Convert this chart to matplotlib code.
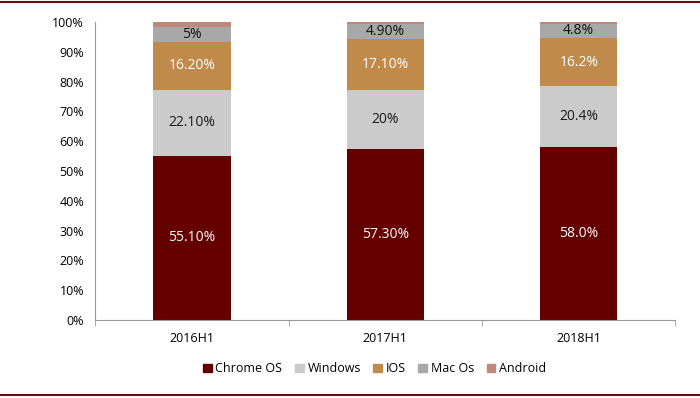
import numpy as np
import matplotlib
matplotlib.use("Agg")
import matplotlib.pyplot as plt
from matplotlib.lines import Line2D
from matplotlib.patches import Patch

plt.rcParams.update({"font.family": ["Open Sans", "DejaVu Sans"], "font.size": 9})

periods = ["2016H1", "2017H1", "2018H1"]
series = ["Chrome OS", "Windows", "IOS", "Mac Os", "Android"]
chrome = [55.1, 57.3, 58.0]
windows = [22.1, 20.0, 20.4]
ios = [16.2, 17.1, 16.2]
mac = [5.0, 4.9, 4.8]
android = [1.6, 0.7, 0.6]
labels = {
    "Chrome OS": ["55.10%", "57.30%", "58.0%"],
    "Windows": ["22.10%", "20%", "20.4%"],
    "IOS": ["16.20%", "17.10%", "16.2%"],
    "Mac Os": ["5%", "4.90%", "4.8%"],
}
values = {"Chrome OS": chrome, "Windows": windows, "IOS": ios,
          "Mac Os": mac, "Android": android}
colors = {"Chrome OS": "#640000", "Windows": "#CBCBCB", "IOS": "#C08A4B",
          "Mac Os": "#A8A8A8", "Android": "#C08878"}
txtcol = {"Chrome OS": "white", "Windows": "#1A1A1A", "IOS": "white",
          "Mac Os": "#111111"}

fig = plt.figure(figsize=(7.0, 3.98), dpi=100)
ax = fig.add_axes([0.136, 0.196, 0.829, 0.749])

x = np.arange(len(periods))
bottom = np.zeros(len(periods))
for s in series:
    v = np.array(values[s])
    ax.bar(x, v, 0.4, bottom=bottom, color=colors[s], edgecolor="none", label=s)
    if s in labels:
        for i in range(len(x)):
            ax.text(x[i], bottom[i] + v[i] / 2, labels[s][i], ha="center", va="center",
                    fontsize=10, color=txtcol[s])
    bottom += v

ax.set_xlim(-0.5, 2.5)
ax.set_ylim(0, 100)
ax.set_yticks(np.arange(0, 101, 10))
ax.set_yticklabels([f"{t}%" for t in range(0, 101, 10)])
ax.set_xticks(x)
ax.set_xticklabels(periods)
ax.set_xticks([-0.5, 0.5, 1.5, 2.5], minor=True)
ax.tick_params(axis="x", which="major", length=0, pad=9)
ax.tick_params(axis="x", which="minor", length=4, color="#999999")
ax.tick_params(axis="y", length=0, pad=8)
for sp in ["top", "right"]:
    ax.spines[sp].set_visible(False)
for sp in ["left", "bottom"]:
    ax.spines[sp].set_color("#999999")

handles = [Patch(color=colors[s], label=s) for s in series]
fig.legend(handles=handles, loc="center", bbox_to_anchor=(0.535, 0.073), ncol=5,
           frameon=False, handlelength=0.7, handleheight=0.7, handletextpad=0.3,
           columnspacing=1.0, fontsize=9)

fig.add_artist(Line2D([0, 1], [0.995, 0.995], color="#6B0E12", lw=1.5))
fig.add_artist(Line2D([0, 1], [0.008, 0.008], color="#6B0E12", lw=1.5))

fig.savefig("out.png", dpi=100)
